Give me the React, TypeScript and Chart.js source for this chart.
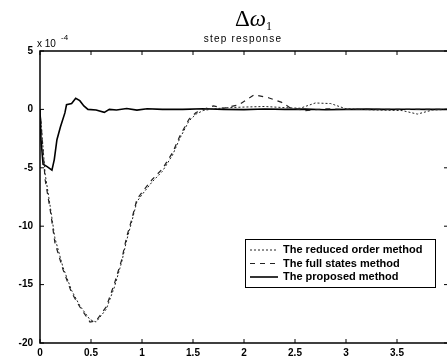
import React, { useEffect, useRef } from "react";
import { Chart, registerables } from "chart.js";

Chart.register(...registerables);

// Step response of the speed deviation, in units of 1e-4.
const timeReduced = [0, 0.05, 0.1, 0.146, 0.225, 0.31, 0.39, 0.49, 0.55, 0.65, 0.73, 0.8, 0.85, 0.9, 0.95, 1.0, 1.1, 1.2, 1.3, 1.37, 1.46, 1.53, 1.6, 1.7, 1.85, 2.0, 2.2, 2.4, 2.55, 2.7, 2.85, 3.0, 3.3, 3.55, 3.7, 3.85, 4.0];
const reducedOrder = [0, -5.5, -8.3, -11.0, -13.5, -15.5, -16.8, -18.0, -18.2, -17.1, -15.2, -13.1, -11.2, -9.6, -7.9, -7.3, -6.2, -5.3, -3.9, -2.5, -1.0, -0.4, -0.1, 0.05, 0.15, 0.2, 0.25, 0.15, 0.1, 0.55, 0.5, 0.05, -0.05, -0.1, -0.4, -0.05, 0];

const timeFull = [0, 0.05, 0.1, 0.146, 0.225, 0.31, 0.39, 0.49, 0.55, 0.65, 0.73, 0.8, 0.85, 0.9, 0.95, 1.0, 1.1, 1.2, 1.3, 1.37, 1.46, 1.53, 1.6, 1.7, 1.8, 1.95, 2.1, 2.24, 2.37, 2.45, 2.6, 2.8, 3.0, 3.5, 4.0];
const fullStates = [0, -6, -8.6, -11.4, -13.7, -15.7, -16.9, -18.2, -18.1, -16.9, -14.9, -12.9, -10.9, -9.4, -7.7, -7.1, -6.0, -5.1, -3.7, -2.3, -0.85, -0.27, 0, 0.3, 0.1, 0.4, 1.25, 1.0, 0.6, 0.15, -0.1, 0.05, 0, 0, 0];

const timeProposed = [0, 0.01, 0.03, 0.07, 0.117, 0.14, 0.166, 0.2, 0.244, 0.26, 0.31, 0.35, 0.39, 0.43, 0.47, 0.55, 0.63, 0.68, 0.75, 0.85, 0.95, 1.05, 1.2, 1.4, 1.6, 1.8, 2.0, 2.2, 2.4, 2.6, 2.8, 3.0, 3.2, 3.4, 3.6, 3.8, 4.0];
const proposed = [0, -2.6, -4.7, -4.9, -5.2, -4.3, -2.6, -1.5, -0.3, 0.4, 0.5, 0.95, 0.75, 0.3, 0, -0.05, -0.25, 0, -0.05, 0.08, -0.06, 0.05, 0, 0, 0.05, 0, -0.02, 0.03, 0, 0.02, -0.03, 0, 0.02, 0, 0.01, 0, 0];

const seriesNames = ["The reduced order method", "The full states method", "The proposed method"];
const xTicks = [0, 0.5, 1, 1.5, 2, 2.5, 3, 3.5, 4];
const yTicks = [5, 0, -5, -10, -15, -20];

const toPoints = (t: number[], v: number[]) => t.map((x, i) => ({ x, y: v[i] }));

const framePlugin = {
  id: "matlabFrame",
  afterDraw(chart: any) {
    const { ctx, chartArea } = chart;
    const { left, right, top, bottom } = chartArea;
    const xs = chart.scales.x;
    const ys = chart.scales.y;
    ctx.save();
    ctx.strokeStyle = "#000";
    ctx.lineWidth = 1.5;
    ctx.beginPath();
    ctx.moveTo(left, top);
    ctx.lineTo(right, top);
    ctx.lineTo(right, bottom);
    ctx.lineTo(left, bottom);
    ctx.closePath();
    ctx.stroke();

    // inward tick marks
    ctx.lineWidth = 1;
    const tl = 4;
    ctx.beginPath();
    xTicks.forEach((v) => {
      const px = xs.getPixelForValue(v);
      ctx.moveTo(px, bottom);
      ctx.lineTo(px, bottom - tl);
      ctx.moveTo(px, top);
      ctx.lineTo(px, top + tl);
    });
    yTicks.forEach((v) => {
      const py = ys.getPixelForValue(v);
      ctx.moveTo(left, py);
      ctx.lineTo(left + tl, py);
      ctx.moveTo(right, py);
      ctx.lineTo(right - tl, py);
    });
    ctx.stroke();

    // title
    ctx.fillStyle = "#000";
    ctx.textBaseline = "alphabetic";
    ctx.textAlign = "left";
    ctx.font = '23px "Liberation Serif"';
    let x = 235;
    ctx.fillText("Δ", x, 26);
    x += ctx.measureText("Δ").width;
    ctx.font = 'italic 23px "Liberation Serif"';
    ctx.fillText("ω", x, 26);
    x += ctx.measureText("ω").width;
    ctx.font = '12px "Liberation Serif"';
    ctx.fillText("1", x, 30);

    ctx.font = '10px "Liberation Sans"';
    ctx.textAlign = "center";
    (ctx as any).letterSpacing = "1.2px";
    ctx.fillText("step response", 243, 42);
    (ctx as any).letterSpacing = "0px";

    ctx.textAlign = "left";
    ctx.font = '10px "Liberation Sans"';
    ctx.fillText("x 10", 37, 47);
    ctx.font = '8px "Liberation Sans"';
    ctx.fillText("-4", 61, 40);

    // legend
    const bx = 245, by = 239, bw = 190, bh = 48;
    ctx.fillStyle = "#fff";
    ctx.fillRect(bx, by, bw, bh);
    ctx.strokeStyle = "#000";
    ctx.lineWidth = 1;
    ctx.strokeRect(bx + 0.5, by + 0.5, bw, bh);
    ctx.font = 'bold 11px "Liberation Sans"';
    ctx.textBaseline = "middle";
    chart.data.datasets.forEach((ds: any, i: number) => {
      const yy = by + 11 + i * 13.5;
      ctx.save();
      ctx.strokeStyle = ds.borderColor;
      ctx.lineWidth = ds.borderWidth;
      ctx.setLineDash(ds.borderDash || []);
      ctx.beginPath();
      ctx.moveTo(bx + 5, yy);
      ctx.lineTo(bx + 33, yy);
      ctx.stroke();
      ctx.restore();
      ctx.fillStyle = "#000";
      ctx.fillText(ds.label, bx + 38, yy);
    });
    ctx.restore();
  },
};

export default function App() {
  const ref = useRef<HTMLCanvasElement>(null);
  useEffect(() => {
    if (!ref.current) return;
    const chart = new Chart(ref.current, {
      type: "line",
      data: {
        datasets: [
          {
            label: seriesNames[0],
            data: toPoints(timeReduced, reducedOrder),
            borderColor: "#222",
            borderWidth: 1,
            borderDash: [2, 2],
            pointRadius: 0,
            fill: false,
          },
          {
            label: seriesNames[1],
            data: toPoints(timeFull, fullStates),
            borderColor: "#222",
            borderWidth: 1.2,
            borderDash: [5, 5],
            pointRadius: 0,
            fill: false,
          },
          {
            label: seriesNames[2],
            data: toPoints(timeProposed, proposed),
            borderColor: "#000",
            borderWidth: 1.6,
            pointRadius: 0,
            fill: false,
          },
        ],
      },
      options: {
        responsive: false,
        animation: false,
        devicePixelRatio: 1,
        layout: { padding: { top: 51, right: 4, left: 0, bottom: 0 } },
        plugins: { legend: { display: false }, tooltip: { enabled: false }, title: { display: false } },
        scales: {
          x: {
            type: "linear",
            min: 0,
            max: 4,
            grid: { display: false, drawTicks: false, tickLength: 0 },
            border: { display: false },
            afterFit: (s: any) => { s.height = 17; },
            afterBuildTicks: (s: any) => { s.ticks = xTicks.map((v) => ({ value: v })); },
            ticks: {
              padding: 4,
              maxRotation: 0,
              color: "#000",
              font: { family: "Liberation Sans", size: 10, weight: "bold" },
              callback: (v: any) => (v === 4 ? "" : String(v)),
            },
          },
          y: {
            type: "linear",
            min: -20,
            max: 5,
            grid: { display: false, drawTicks: false, tickLength: 0 },
            border: { display: false },
            afterFit: (s: any) => { s.width = 40; },
            afterBuildTicks: (s: any) => { s.ticks = yTicks.map((v) => ({ value: v })); },
            ticks: {
              padding: 7,
              color: "#000",
              font: { family: "Liberation Sans", size: 10, weight: "bold" },
              callback: (v: any) => String(v),
            },
          },
        },
      },
      plugins: [framePlugin],
    });
    return () => chart.destroy();
  }, []);
  return (
    <div style={{ position: "absolute", left: 0, top: 0, width: 447, height: 360, overflow: "hidden", background: "#fff" }}>
      <canvas ref={ref} width={452} height={360} style={{ width: 452, height: 360 }} />
    </div>
  );
}
